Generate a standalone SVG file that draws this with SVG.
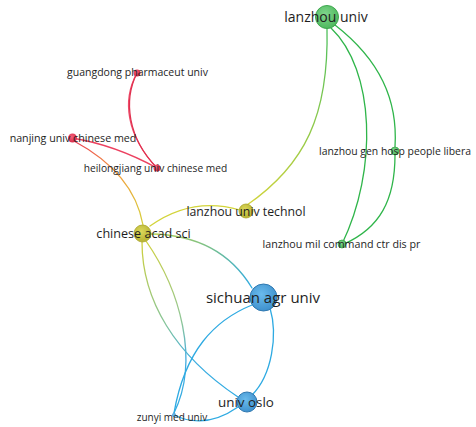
<svg xmlns="http://www.w3.org/2000/svg" width="476" height="427" viewBox="0 0 476 427">
<style>
.e{fill:none;stroke-width:1.3;stroke-linecap:round}
.lbl{font-family:"Open Sans","Noto Sans",sans-serif;fill:#1e1e1e;text-anchor:middle}
</style>
<defs>
<radialGradient id="gG" cx="0.42" cy="0.38" r="0.65"><stop offset="0" stop-color="#80d68c"/><stop offset="1" stop-color="#4cb75c"/></radialGradient>
<radialGradient id="gB" cx="0.42" cy="0.38" r="0.65"><stop offset="0" stop-color="#6abbec"/><stop offset="1" stop-color="#3d8fcc"/></radialGradient>
<radialGradient id="gY" cx="0.42" cy="0.38" r="0.65"><stop offset="0" stop-color="#dcd85a"/><stop offset="1" stop-color="#b5b130"/></radialGradient>
<radialGradient id="gR" cx="0.42" cy="0.38" r="0.65"><stop offset="0" stop-color="#f2607a"/><stop offset="1" stop-color="#d92848"/></radialGradient>
<linearGradient id="l1" gradientUnits="userSpaceOnUse" x1="327" y1="28" x2="247" y2="205"><stop offset="0" stop-color="#4cbf5c"/><stop offset="1" stop-color="#d3d43a"/></linearGradient>
<linearGradient id="l7" gradientUnits="userSpaceOnUse" x1="74" y1="141" x2="143" y2="225"><stop offset="0" stop-color="#ea3a55"/><stop offset="0.45" stop-color="#f29a3c"/><stop offset="1" stop-color="#d6d03a"/></linearGradient>
<linearGradient id="l9" gradientUnits="userSpaceOnUse" x1="151" y1="234" x2="252" y2="288"><stop offset="0" stop-color="#b8cf50"/><stop offset="0.5" stop-color="#79c08a"/><stop offset="1" stop-color="#2eaae2"/></linearGradient>
<linearGradient id="l10" gradientUnits="userSpaceOnUse" x1="142" y1="242" x2="238" y2="397"><stop offset="0" stop-color="#cfd03c"/><stop offset="0.45" stop-color="#84c49a"/><stop offset="0.7" stop-color="#3cade0"/><stop offset="1" stop-color="#2eaae2"/></linearGradient>
<linearGradient id="l11" gradientUnits="userSpaceOnUse" x1="146" y1="241" x2="174" y2="413"><stop offset="0" stop-color="#cfd03c"/><stop offset="0.5" stop-color="#8cc59a"/><stop offset="0.7" stop-color="#45ade0"/><stop offset="1" stop-color="#2eaae2"/></linearGradient>
</defs>
<g id="connectors">
<path class="e" stroke="url(#l1)" d="M327,28 C329,115 305,165 247,205"/>
<path class="e" stroke="#2fb54a" d="M331,28 C375,70 378,170 342,244"/>
<path class="e" stroke="#2fb54a" d="M335,25 C380,60 398,100 395,147"/>
<path class="e" stroke="#2fb54a" d="M395,155 C395,200 380,228 344,244"/>
<path class="e" stroke="#f0506e" d="M137,73 C122,100 126,135 157,168"/>
<path class="e" stroke="#e0304f" d="M137,73 C123,101 128,138 157,168"/>
<path class="e" stroke="#ec4160" d="M72,138 Q115,145 157,168"/>
<path class="e" stroke="url(#l7)" d="M74,141 C100,155 135,180 143,225"/>
<path class="e" stroke="#d3d43a" d="M150,226 Q192,196 240,210"/>
<path class="e" stroke="url(#l9)" d="M151,234 Q220,235 252,288"/>
<path class="e" stroke="url(#l10)" d="M142,242 C142,300 175,355 238,397"/>
<path class="e" stroke="url(#l11)" d="M146,241 C180,290 200,360 174,413"/>
<path class="e" stroke="#2eaae2" d="M252,305 C215,320 185,350 174,413"/>
<path class="e" stroke="#2eaae2" d="M270,308 C278,335 272,375 252,395"/>
<path class="e" stroke="#2eaae2" d="M238,407 Q205,430 174,415"/>
</g>
<g id="node-lanzhou-univ"><circle cx="327" cy="17" r="11.5" fill="url(#gG)" stroke="#3fa84f" stroke-width="1"/><text class="lbl" x="326" y="22" font-size="14">lanzhou univ</text></g>
<g id="node-lanzhou-gen-hosp"><circle cx="395" cy="151" r="4" fill="url(#gG)" stroke="#3fa84f" stroke-width="0.8"/><text class="lbl" x="395" y="154.5" font-size="10.4">lanzhou gen hosp people libera</text></g>
<g id="node-lanzhou-mil-command"><circle cx="342" cy="244" r="4" fill="url(#gG)" stroke="#3fa84f" stroke-width="0.8"/><text class="lbl" x="341.5" y="247.5" font-size="10.7">lanzhou mil command ctr dis pr</text></g>
<g id="node-guangdong"><circle cx="137" cy="73" r="3.5" fill="url(#gR)"/><text class="lbl" x="137.5" y="76" font-size="10.5">guangdong pharmaceut univ</text></g>
<g id="node-nanjing"><circle cx="72.5" cy="138" r="4.5" fill="url(#gR)"/><text class="lbl" x="73" y="141.5" font-size="10.7">nanjing univ chinese med</text></g>
<g id="node-heilongjiang"><circle cx="157" cy="168" r="3.5" fill="url(#gR)"/><text class="lbl" x="155.5" y="171.5" font-size="10.2">heilongjiang univ chinese med</text></g>
<g id="node-lanzhou-univ-technol"><circle cx="246" cy="211" r="7" fill="url(#gY)" stroke="#a9a52a" stroke-width="0.8"/><text class="lbl" x="246" y="215.5" font-size="12.3">lanzhou univ technol</text></g>
<g id="node-chinese-acad-sci"><circle cx="142.5" cy="233.5" r="8.5" fill="url(#gY)" stroke="#a9a52a" stroke-width="0.8"/><text class="lbl" x="143.5" y="238" font-size="12.6">chinese acad sci</text></g>
<g id="node-sichuan-agr-univ"><circle cx="263.5" cy="297.5" r="13.5" fill="url(#gB)" stroke="#2f78b0" stroke-width="1"/><text class="lbl" x="263" y="303" font-size="15">sichuan agr univ</text></g>
<g id="node-univ-oslo"><circle cx="247" cy="402" r="10" fill="url(#gB)" stroke="#2f78b0" stroke-width="1"/><text class="lbl" x="246" y="406.5" font-size="13.4">univ oslo</text></g>
<g id="node-zunyi-med-univ"><circle cx="174" cy="415" r="2" fill="url(#gB)"/><text class="lbl" x="172" y="421" font-size="10">zunyi med univ</text></g>
</svg>
